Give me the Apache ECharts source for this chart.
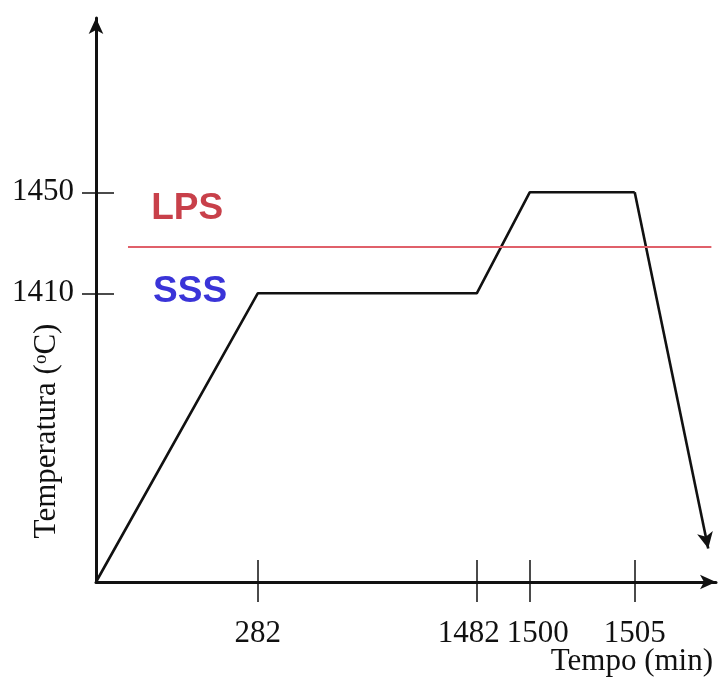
<!DOCTYPE html>
<html>
<head>
<meta charset="utf-8">
<script src="https://cdn.jsdelivr.net/npm/echarts@6/dist/echarts.min.js"></script>
<style>
  html, body { margin: 0; padding: 0; background: #ffffff; }
  #grafico { width: 726px; height: 683px; }
</style>
</head>
<body>
<div id="grafico"></div>
<script>
// Ciclo térmico de sinterização: tempo (min) x temperatura (°C)
const tempo = [0, 282, 1482, 1500, 1505, 1508.5];
const temperatura = [1295.7, 1410, 1410, 1450, 1450, 1309];

// Marcas dos eixos
const ticksTempo = [282, 1482, 1500, 1505];
const ticksTemperatura = [1410, 1450];

// Fronteira entre sinterização em fase líquida e em estado sólido
const tempLPS = 1428.5;
const faixaTempoLPS = [26.7, 1508.65];

// Regiões do diagrama
const fases = ['LPS', 'SSS'];
const fasesTempo = [165, 172];
const fasesTemp = [1443.6, 1410.6];

// Trechos longos do eixo do tempo comprimidos (esquema fora de escala)
const trechosComprimidos = [
  { start: 1, end: 281, gap: 5.7 },
  { start: 283, end: 1481, gap: 8.43 },
  { start: 1483, end: 1499, gap: 0.52 }
];

const serif = 'Liberation Serif, Times New Roman, serif';
const sans = 'Liberation Sans, Arial, sans-serif';
const preto = '#111111';

const eixoTempoBase = {
  type: 'value',
  gridIndex: 0,
  position: 'bottom',
  min: 0,
  max: 1508.87,
  breaks: trechosComprimidos,
  breakArea: { show: false },
  splitLine: { show: false }
};
const eixoTempBase = {
  type: 'value',
  gridIndex: 0,
  position: 'left',
  min: 1295.7,
  max: 1519,
  splitLine: { show: false }
};

// Rótulos 1482 e 1500 afastados um do outro
const afastamento = { 1482: 'esq', 1500: 'dir' };
const estiloRotulo = { fontFamily: serif, fontSize: 31, color: preto };
const setaEixo = { symbol: ['none', 'arrow'], symbolSize: [11, 16] };

const option = {
  animation: false,
  backgroundColor: '#ffffff',
  grid: { left: 96, right: 10, top: 18, bottom: 101, containLabel: false, outerBoundsMode: 'none' },
  xAxis: [
    Object.assign({}, eixoTempoBase, {
      axisLine: { show: false, onZero: false },
      axisTick: { show: true, customValues: ticksTempo, inside: false, length: 20,
        lineStyle: { color: preto, width: 1.5 } },
      axisLabel: {
        show: true, customValues: ticksTempo, margin: 36,
        formatter: v => '{' + (afastamento[v] || 'n') + '|' + v + '}',
        rich: {
          n: estiloRotulo,
          esq: Object.assign({ padding: [0, 16, 0, 0] }, estiloRotulo),
          dir: Object.assign({ padding: [0, 0, 0, 16] }, estiloRotulo)
        }
      }
    }),
    Object.assign({}, eixoTempoBase, {
      axisLine: { show: false, onZero: false },
      axisTick: { show: true, customValues: ticksTempo, inside: true, length: 22,
        lineStyle: { color: preto, width: 1.5 } },
      axisLabel: { show: false }
    }),
    // linha contínua do eixo do tempo, com seta
    {
      type: 'value', gridIndex: 0, position: 'bottom', min: 0, max: 1,
      axisLine: Object.assign({ show: true, onZero: false,
        lineStyle: { color: preto, width: 3 } }, setaEixo),
      axisTick: { show: false },
      axisLabel: { show: false },
      splitLine: { show: false }
    }
  ],
  yAxis: [
    Object.assign({}, eixoTempBase, {
      axisLine: Object.assign({ show: true, onZero: false,
        lineStyle: { color: preto, width: 3 } }, setaEixo),
      axisTick: { show: true, customValues: ticksTemperatura, inside: false, length: 14,
        lineStyle: { color: preto, width: 1.5 } },
      axisLabel: { show: true, customValues: ticksTemperatura, margin: 22,
        formatter: v => String(v),
        fontFamily: serif, fontSize: 31, color: preto }
    }),
    Object.assign({}, eixoTempBase, {
      axisLine: { show: false, onZero: false },
      axisTick: { show: true, customValues: ticksTemperatura, inside: true, length: 18,
        lineStyle: { color: preto, width: 1.5 } },
      axisLabel: { show: false }
    })
  ],
  graphic: [
    {
      type: 'text',
      x: 47, y: 431,
      rotation: Math.PI / 2,
      silent: true,
      style: {
        text: 'Temperatura ({sup|o}C)',
        fontFamily: serif, fontSize: 31, fill: preto,
        align: 'center', verticalAlign: 'middle',
        rich: { sup: { fontFamily: serif, fontSize: 19, fill: preto, padding: [0, 0, 12, 0] } }
      }
    },
    {
      type: 'text',
      x: 713, y: 662,
      silent: true,
      style: {
        text: 'Tempo (min)',
        fontFamily: serif, fontSize: 31, fill: preto,
        align: 'right', verticalAlign: 'middle'
      }
    }
  ],
  series: [
    {
      type: 'line',
      xAxisIndex: 0,
      yAxisIndex: 0,
      silent: true,
      symbol: 'none',
      lineStyle: { color: preto, width: 2.6 },
      data: tempo.slice(0, 5).map((t, i) => [t, temperatura[i]]),
      // resfriamento final com seta
      markLine: {
        silent: true,
        symbol: ['none', 'arrow'],
        symbolSize: [12, 16],
        label: { show: false },
        lineStyle: { color: preto, width: 2.6, type: 'solid' },
        emphasis: { disabled: true },
        data: [[
          { coord: [tempo[4], temperatura[4]] },
          { coord: [tempo[5], temperatura[5]] }
        ]]
      }
    },
    {
      type: 'line',
      xAxisIndex: 0,
      yAxisIndex: 0,
      silent: true,
      data: [],
      markLine: {
        silent: true,
        symbol: ['none', 'none'],
        label: { show: false },
        lineStyle: { color: '#e0606a', width: 2, type: 'solid' },
        emphasis: { disabled: true },
        data: [[
          { coord: [faixaTempoLPS[0], tempLPS] },
          { coord: [faixaTempoLPS[1], tempLPS] }
        ]]
      },
      markPoint: {
        silent: true,
        symbol: 'circle',
        symbolSize: 1,
        itemStyle: { color: 'rgba(0,0,0,0)' },
        label: { show: true, position: 'inside', formatter: '{b}',
          fontFamily: sans, fontSize: 37, fontWeight: 'bold' },
        data: fases.map((f, i) => ({
          name: f,
          coord: [fasesTempo[i], fasesTemp[i]],
          label: { color: i === 0 ? '#c8404a' : '#3a34d8' }
        }))
      }
    }
  ]
};

const grafico = echarts.init(document.getElementById('grafico'), null, { renderer: 'canvas' });
grafico.setOption(option);
</script>
</body>
</html>
